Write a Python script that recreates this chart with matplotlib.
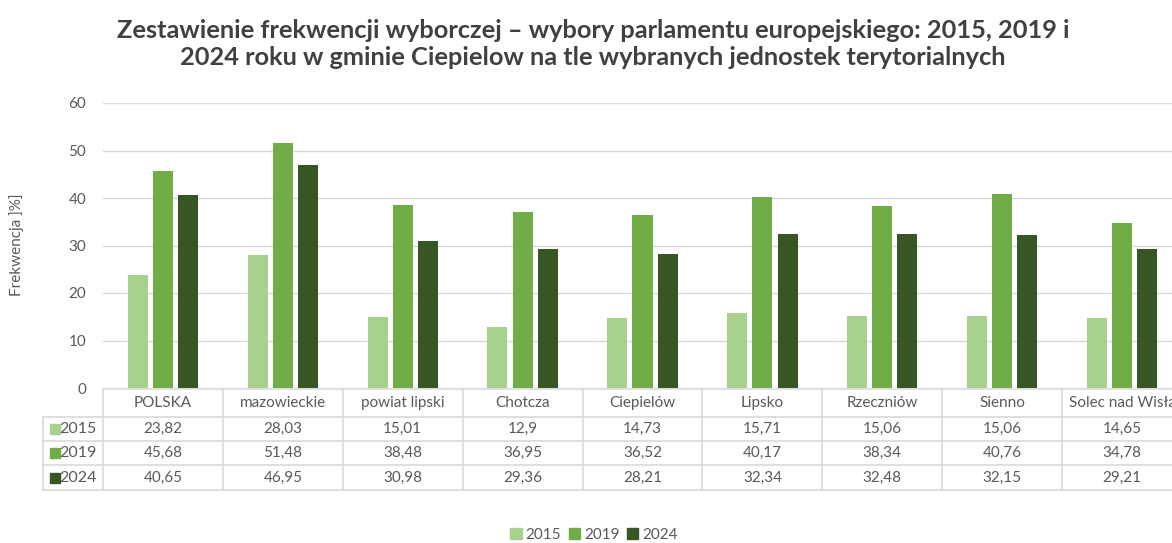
import numpy as np
import matplotlib
matplotlib.use('Agg')
import matplotlib.pyplot as plt
from matplotlib.patches import Patch

plt.rcParams['font.family'] = ['Lato', 'DejaVu Sans']

categories = ['POLSKA', 'mazowieckie', 'powiat lipski', 'Chotcza', 'Ciepielów',
              'Lipsko', 'Rzeczniów', 'Sienno', 'Solec nad Wisłą']
years = ['2015', '2019', '2024']
v2015 = [23.82, 28.03, 15.01, 12.9, 14.73, 15.71, 15.06, 15.06, 14.65]
v2019 = [45.68, 51.48, 38.48, 36.95, 36.52, 40.17, 38.34, 40.76, 34.78]
v2024 = [40.65, 46.95, 30.98, 29.36, 28.21, 32.34, 32.48, 32.15, 29.21]
yticks = [0, 10, 20, 30, 40, 50, 60]

colors = ['#A9D18E', '#70AD47', '#375623']
text_col = '#595959'
grid_col = '#D9D9D9'

W, H = 1172, 543
fig = plt.figure(figsize=(W / 100, H / 100), dpi=100)

# main axes (extends a bit past the right edge, like the original)
ax_l, ax_r = 103, 1182
ax = fig.add_axes([ax_l / W, 1 - 388 / H, (ax_r - ax_l) / W, 285 / H])
x = np.arange(len(categories))
bw = 0.167
off = 0.21
for i, (vals, c) in enumerate(zip([v2015, v2019, v2024], colors)):
    ax.bar(x + (i - 1) * off, vals, bw, color=c, zorder=3)

ax.set_xlim(-0.5, len(categories) - 0.5)
ax.set_ylim(0, 60)
ax.set_yticks(yticks)
ax.set_yticklabels([str(t) for t in yticks], fontsize=11, color=text_col)
ax.tick_params(axis='y', length=0, pad=12)
ax.set_xticks([])
ax.grid(True, axis='y', color=grid_col, linewidth=1, zorder=0)
for s in ax.spines.values():
    s.set_visible(False)

# data table below the axes
tax = fig.add_axes([ax_l / W, 1 - 490 / H, (ax_r - ax_l) / W, 101 / H], sharex=ax)
tax.set_ylim(101, 0)
tax.axis('off')
rows_y = [0, 28, 52, 76, 101]
lab_left = -0.5 - 60 / 120
lw = 1.2
for yb in rows_y:
    x0 = -0.5 if yb == 0 else lab_left
    tax.plot([x0, len(categories) - 0.5], [yb, yb], color=grid_col, lw=lw, clip_on=False)
for b in np.arange(len(categories) + 1) - 0.5:
    tax.plot([b, b], [0, 101], color=grid_col, lw=lw, clip_on=False)
tax.plot([lab_left, lab_left], [28, 101], color=grid_col, lw=lw, clip_on=False)

for j, cat in enumerate(categories):
    tax.text(j, 14, cat, ha='center', va='center', fontsize=11, color=text_col, clip_on=False)
for r, (yr, vals, c) in enumerate(zip(years, [v2015, v2019, v2024], colors)):
    yc = (rows_y[r + 1] + rows_y[r + 2]) / 2
    tax.plot([lab_left + 0.1], [yc], marker='s', ms=7, color=c, clip_on=False)
    tax.text(lab_left + 0.135, yc, yr, ha='left', va='center', fontsize=11.5, color=text_col)
    for j, v in enumerate(vals):
        tax.text(j, yc, f'{v:g}'.replace('.', ','), ha='center', va='center',
                 fontsize=11, color=text_col)

# title, axis label, legend
fig.text(593 / W, 1 - 44 / H,
         'Zestawienie frekwencji wyborczej – wybory parlamentu europejskiego: 2015, 2019 i\n'
         '2024 roku w gminie Ciepielow na tle wybranych jednostek terytorialnych',
         ha='center', va='center', fontsize=18.3, fontweight='bold', color='#404040',
         linespacing=1.2)
fig.text(17 / W, 1 - 245 / H, 'Frekwencja ]%]', rotation=90, ha='center', va='center',
         fontsize=11, color=text_col)

handles = [Patch(color=c, label=y) for y, c in zip(years, colors)]
fig.legend(handles=handles, loc='center', bbox_to_anchor=(594 / W, 1 - 535 / H), ncol=3,
           frameon=False, fontsize=11, handlelength=0.75, handleheight=0.75,
           handletextpad=0.25, columnspacing=0.5, labelcolor=text_col)

fig.savefig('out.png', dpi=100)
